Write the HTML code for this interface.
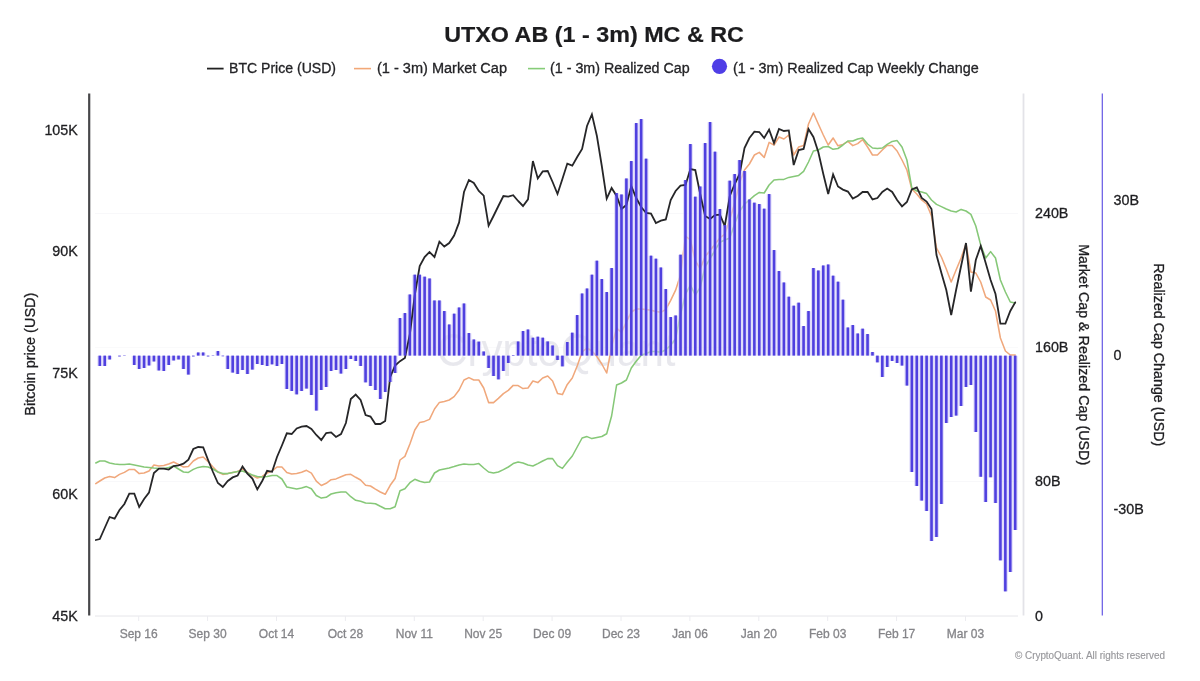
<!DOCTYPE html>
<html lang="en"><head><meta charset="utf-8"><title>UTXO AB (1 - 3m) MC &amp; RC</title>
<style>html,body{margin:0;padding:0;background:#fff;}body{width:1200px;height:681px;overflow:hidden;}svg{display:block;}text{fill:currentColor;stroke:currentColor;stroke-width:0.3px;font-family:"Liberation Sans",Arial,Helvetica,sans-serif;}</style></head><body>
<svg width="1200" height="681" viewBox="0 0 1200 681">
<rect width="1200" height="681" fill="#ffffff"/>
<text x="444.2" y="41.7" font-size="22.5" font-weight="700" style="color:#1c1c1e;stroke-width:0.2px" textLength="299.7" lengthAdjust="spacingAndGlyphs">UTXO AB (1 - 3m) MC &amp; RC</text>
<g font-size="14" style="color:#242427">
<line x1="207" y1="68.6" x2="223.6" y2="68.6" stroke="#222" stroke-width="1.8"/>
<text x="229" y="73" textLength="107" lengthAdjust="spacingAndGlyphs">BTC Price (USD)</text>
<line x1="354" y1="68.6" x2="371" y2="68.6" stroke="#f2a878" stroke-width="1.6"/>
<text x="377" y="73" textLength="130" lengthAdjust="spacingAndGlyphs">(1 - 3m) Market Cap</text>
<line x1="528" y1="68.6" x2="545" y2="68.6" stroke="#86cc78" stroke-width="1.6"/>
<text x="550" y="73" textLength="139.7" lengthAdjust="spacingAndGlyphs">(1 - 3m) Realized Cap</text>
<circle cx="719.5" cy="66.3" r="7.6" fill="#4f3ee6"/>
<text x="733" y="73" textLength="245.7" lengthAdjust="spacingAndGlyphs">(1 - 3m) Realized Cap Weekly Change</text>
</g>
<g stroke="#f8f8fa" stroke-width="1">
<line x1="95" y1="213.5" x2="1018" y2="213.5"/>
<line x1="95" y1="481.5" x2="1018" y2="481.5"/>
<line x1="95" y1="347.5" x2="1018" y2="347.5" stroke="#fafafb"/>
</g>
<line x1="95" y1="616" x2="1018" y2="616" stroke="#e6e6ea" stroke-width="1"/>
<g font-size="12" style="color:#858589" text-anchor="middle">
<line x1="138.7" y1="616" x2="138.7" y2="621" stroke="#ececf0" stroke-width="1"/>
<text x="138.7" y="638.3">Sep 16</text>
<line x1="207.6" y1="616" x2="207.6" y2="621" stroke="#ececf0" stroke-width="1"/>
<text x="207.6" y="638.3">Sep 30</text>
<line x1="276.5" y1="616" x2="276.5" y2="621" stroke="#ececf0" stroke-width="1"/>
<text x="276.5" y="638.3">Oct 14</text>
<line x1="345.4" y1="616" x2="345.4" y2="621" stroke="#ececf0" stroke-width="1"/>
<text x="345.4" y="638.3">Oct 28</text>
<line x1="414.3" y1="616" x2="414.3" y2="621" stroke="#ececf0" stroke-width="1"/>
<text x="414.3" y="638.3">Nov 11</text>
<line x1="483.2" y1="616" x2="483.2" y2="621" stroke="#ececf0" stroke-width="1"/>
<text x="483.2" y="638.3">Nov 25</text>
<line x1="552.1" y1="616" x2="552.1" y2="621" stroke="#ececf0" stroke-width="1"/>
<text x="552.1" y="638.3">Dec 09</text>
<line x1="621.0" y1="616" x2="621.0" y2="621" stroke="#ececf0" stroke-width="1"/>
<text x="621.0" y="638.3">Dec 23</text>
<line x1="689.9" y1="616" x2="689.9" y2="621" stroke="#ececf0" stroke-width="1"/>
<text x="689.9" y="638.3">Jan 06</text>
<line x1="758.8" y1="616" x2="758.8" y2="621" stroke="#ececf0" stroke-width="1"/>
<text x="758.8" y="638.3">Jan 20</text>
<line x1="827.7" y1="616" x2="827.7" y2="621" stroke="#ececf0" stroke-width="1"/>
<text x="827.7" y="638.3">Feb 03</text>
<line x1="896.6" y1="616" x2="896.6" y2="621" stroke="#ececf0" stroke-width="1"/>
<text x="896.6" y="638.3">Feb 17</text>
<line x1="965.5" y1="616" x2="965.5" y2="621" stroke="#ececf0" stroke-width="1"/>
<text x="965.5" y="638.3">Mar 03</text>
</g>
<text x="437" y="366" font-size="46" style="color:#e5e5eb;stroke-width:0" opacity="0.85" textLength="238.5" lengthAdjust="spacingAndGlyphs">CryptoQuant</text>
<path d="M95.8,483.6 L99.8,481.0 L104.7,478.0 L109.6,476.6 L114.6,477.6 L119.5,474.4 L124.4,472.4 L129.3,469.4 L134.3,469.4 L139.2,473.6 L144.1,473.0 L149.0,471.0 L153.9,465.0 L158.9,466.0 L163.8,465.6 L168.7,464.0 L173.6,462.0 L178.5,464.4 L183.5,467.0 L188.4,466.6 L193.3,461.0 L198.2,458.0 L203.2,457.0 L208.1,461.6 L213.0,467.0 L217.9,472.0 L222.8,474.4 L227.8,473.6 L232.7,472.4 L237.6,471.4 L242.5,469.0 L247.4,472.4 L252.4,475.6 L257.3,478.0 L262.2,476.4 L267.1,473.0 L272.1,471.0 L277.0,467.0 L281.9,467.0 L286.8,472.4 L291.7,474.0 L296.7,473.6 L301.6,472.3 L306.5,470.3 L311.4,473.1 L316.3,481.2 L321.3,485.5 L326.2,483.3 L331.1,479.7 L336.0,478.9 L341.0,476.7 L345.9,474.7 L350.8,474.3 L355.7,477.3 L360.6,480.0 L365.6,485.3 L370.5,486.0 L375.4,489.1 L380.3,492.0 L385.2,494.3 L390.2,485.3 L395.1,478.5 L400.0,460.0 L404.9,456.4 L409.9,444.0 L414.8,430.0 L419.7,422.4 L424.6,421.4 L429.5,419.4 L434.5,409.0 L439.4,402.4 L444.3,401.4 L449.2,400.0 L454.1,396.6 L459.1,390.0 L464.0,380.0 L468.9,377.6 L473.8,380.0 L478.8,380.0 L483.7,388.0 L488.6,402.6 L493.5,402.6 L498.4,398.4 L503.4,393.6 L508.3,390.4 L513.2,385.4 L518.1,385.6 L523.0,388.6 L528.0,388.0 L532.9,381.0 L537.8,382.6 L542.7,378.0 L547.7,376.0 L552.6,381.0 L557.5,393.4 L562.4,394.6 L567.3,384.4 L572.3,378.0 L577.2,366.0 L582.1,352.0 L587.0,348.0 L591.9,351.0 L596.9,356.6 L601.8,364.0 L606.7,373.0 L611.6,346.6 L616.6,328.1 L621.5,332.4 L626.4,321.9 L631.3,312.0 L636.2,309.0 L641.2,309.0 L646.1,309.6 L651.0,310.2 L655.9,311.5 L660.9,312.3 L665.8,309.4 L670.7,300.4 L675.6,290.2 L680.5,275.0 L685.5,236.0 L690.4,240.0 L695.3,260.7 L700.2,268.9 L705.1,256.6 L710.1,250.4 L715.0,244.2 L719.9,238.0 L724.8,234.0 L729.8,219.6 L734.7,203.0 L739.6,182.6 L744.5,170.0 L749.4,164.0 L754.4,155.0 L759.3,152.4 L764.2,157.4 L769.1,142.4 L774.0,145.0 L779.0,137.0 L783.9,139.0 L788.8,135.0 L793.7,155.0 L798.7,147.0 L803.6,145.6 L808.5,124.0 L813.4,113.0 L818.3,124.0 L823.3,135.0 L828.2,145.0 L833.1,138.0 L838.0,145.8 L842.9,144.4 L847.9,141.4 L852.8,145.6 L857.7,143.6 L862.6,139.6 L867.6,147.0 L872.5,155.0 L877.4,155.0 L882.3,150.0 L887.2,145.4 L892.2,145.6 L897.1,151.0 L902.0,160.0 L906.9,170.0 L911.8,189.0 L916.8,194.0 L921.7,200.0 L926.6,204.0 L931.5,216.0 L936.5,248.0 L941.4,257.0 L946.3,269.0 L951.2,282.0 L956.1,270.0 L961.1,258.0 L966.0,244.0 L970.9,272.0 L975.8,273.0 L980.7,282.0 L985.7,297.0 L990.6,300.0 L995.5,311.0 L1000.4,338.0 L1005.4,351.0 L1010.3,355.0 L1015.2,355.0" fill="none" stroke="#f0a87c" stroke-width="1.55" stroke-linejoin="round" stroke-linecap="round"/>
<path d="M95.8,463.0 L99.8,461.0 L104.7,461.0 L109.6,463.0 L114.6,464.0 L119.5,464.4 L124.4,464.4 L129.3,464.0 L134.3,465.0 L139.2,466.0 L144.1,467.0 L149.0,467.4 L153.9,468.0 L158.9,468.4 L163.8,468.6 L168.7,467.6 L173.6,466.0 L178.5,469.0 L183.5,472.0 L188.4,472.4 L193.3,469.4 L198.2,467.4 L203.2,466.6 L208.1,467.0 L213.0,469.0 L217.9,472.0 L222.8,473.6 L227.8,473.6 L232.7,472.6 L237.6,471.6 L242.5,471.0 L247.4,473.0 L252.4,475.0 L257.3,476.4 L262.2,477.0 L267.1,476.4 L272.1,475.4 L277.0,475.6 L281.9,479.0 L286.8,487.0 L291.7,488.0 L296.7,489.0 L301.6,488.1 L306.5,486.6 L311.4,488.8 L316.3,495.5 L321.3,498.1 L326.2,497.3 L331.1,494.0 L336.0,492.7 L341.0,492.0 L345.9,492.0 L350.8,496.7 L355.7,500.3 L360.6,501.3 L365.6,502.9 L370.5,503.3 L375.4,503.7 L380.3,506.3 L385.2,508.7 L390.2,508.7 L395.1,506.7 L400.0,490.7 L404.9,488.7 L409.9,482.7 L414.8,479.3 L419.7,481.3 L424.6,482.4 L429.5,482.0 L434.5,473.0 L439.4,470.0 L444.3,469.0 L449.2,468.0 L454.1,466.6 L459.1,465.0 L464.0,464.0 L468.9,464.6 L473.8,464.4 L478.8,463.6 L483.7,468.0 L488.6,472.0 L493.5,473.0 L498.4,472.0 L503.4,469.6 L508.3,467.0 L513.2,463.6 L518.1,462.0 L523.0,463.0 L528.0,465.0 L532.9,466.0 L537.8,463.6 L542.7,461.0 L547.7,458.6 L552.6,458.6 L557.5,465.6 L562.4,468.4 L567.3,462.0 L572.3,456.0 L577.2,447.0 L582.1,438.0 L587.0,436.6 L591.9,438.6 L596.9,437.4 L601.8,436.5 L606.7,433.8 L611.6,416.0 L616.6,385.0 L621.5,383.0 L626.4,380.0 L631.3,368.0 L636.2,361.3 L641.2,355.2 L646.1,353.4 L651.0,351.5 L655.9,351.5 L660.9,352.2 L665.8,349.7 L670.7,345.4 L675.6,338.6 L680.5,314.5 L685.5,294.2 L690.4,285.0 L695.3,295.1 L700.2,287.4 L705.1,266.8 L710.1,258.6 L715.0,250.4 L719.9,242.2 L724.8,240.0 L729.8,238.0 L734.7,223.7 L739.6,211.4 L744.5,204.2 L749.4,200.0 L754.4,195.6 L759.3,192.4 L764.2,193.0 L769.1,185.0 L774.0,180.0 L779.0,179.4 L783.9,179.4 L788.8,177.4 L793.7,176.4 L798.7,175.4 L803.6,171.4 L808.5,162.0 L813.4,151.0 L818.3,150.0 L823.3,147.0 L828.2,146.5 L833.1,149.3 L838.0,148.5 L842.9,145.0 L847.9,141.0 L852.8,141.0 L857.7,139.0 L862.6,138.0 L867.6,144.0 L872.5,148.0 L877.4,148.6 L882.3,148.0 L887.2,144.4 L892.2,141.4 L897.1,140.6 L902.0,147.0 L906.9,160.0 L911.8,188.0 L916.8,191.0 L921.7,192.0 L926.6,193.6 L931.5,200.0 L936.5,204.4 L941.4,206.6 L946.3,209.0 L951.2,211.0 L956.1,212.0 L961.1,209.4 L966.0,211.0 L970.9,214.4 L975.8,226.0 L980.7,245.0 L985.7,258.0 L990.6,251.6 L995.5,258.0 L1000.4,280.0 L1005.4,292.0 L1010.3,302.0 L1015.2,303.0" fill="none" stroke="#86c878" stroke-width="1.55" stroke-linejoin="round" stroke-linecap="round"/>
<g fill="#cfc9f8" opacity="0.66">
<rect x="97.34" y="355.9" width="4.921" height="10.1"/>
<rect x="102.26" y="355.9" width="4.921" height="10.1"/>
<rect x="107.18" y="355.9" width="4.921" height="3.6"/>
<rect x="131.79" y="355.9" width="4.921" height="9.1"/>
<rect x="136.71" y="355.9" width="4.921" height="13.1"/>
<rect x="141.63" y="355.9" width="4.921" height="12.1"/>
<rect x="146.55" y="355.9" width="4.921" height="9.6"/>
<rect x="151.48" y="355.9" width="4.921" height="5.6"/>
<rect x="156.40" y="355.9" width="4.921" height="14.6"/>
<rect x="161.32" y="355.9" width="4.921" height="15.1"/>
<rect x="166.24" y="355.9" width="4.921" height="9.1"/>
<rect x="171.16" y="355.9" width="4.921" height="4.6"/>
<rect x="176.08" y="355.9" width="4.921" height="3.6"/>
<rect x="181.00" y="355.9" width="4.921" height="13.1"/>
<rect x="185.93" y="355.9" width="4.921" height="18.7"/>
<rect x="195.77" y="352.7" width="4.921" height="2.9"/>
<rect x="200.69" y="352.7" width="4.921" height="2.9"/>
<rect x="215.46" y="351.3" width="4.921" height="4.3"/>
<rect x="225.30" y="355.9" width="4.921" height="13.1"/>
<rect x="230.22" y="355.9" width="4.921" height="16.7"/>
<rect x="235.14" y="355.9" width="4.921" height="18.1"/>
<rect x="240.06" y="355.9" width="4.921" height="14.1"/>
<rect x="244.98" y="355.9" width="4.921" height="18.1"/>
<rect x="249.91" y="355.9" width="4.921" height="13.7"/>
<rect x="254.83" y="355.9" width="4.921" height="8.1"/>
<rect x="259.75" y="355.9" width="4.921" height="9.1"/>
<rect x="264.67" y="355.9" width="4.921" height="10.1"/>
<rect x="269.59" y="355.9" width="4.921" height="8.5"/>
<rect x="274.51" y="355.9" width="4.921" height="10.1"/>
<rect x="279.43" y="355.9" width="4.921" height="8.1"/>
<rect x="284.36" y="355.9" width="4.921" height="33.1"/>
<rect x="289.28" y="355.9" width="4.921" height="35.1"/>
<rect x="294.20" y="355.9" width="4.921" height="38.5"/>
<rect x="299.12" y="355.9" width="4.921" height="35.1"/>
<rect x="304.04" y="355.9" width="4.921" height="32.7"/>
<rect x="308.96" y="355.9" width="4.921" height="39.1"/>
<rect x="313.89" y="355.9" width="4.921" height="54.7"/>
<rect x="318.81" y="355.9" width="4.921" height="34.1"/>
<rect x="323.73" y="355.9" width="4.921" height="31.1"/>
<rect x="328.65" y="355.9" width="4.921" height="15.1"/>
<rect x="333.57" y="355.9" width="4.921" height="14.1"/>
<rect x="338.49" y="355.9" width="4.921" height="17.7"/>
<rect x="343.41" y="355.9" width="4.921" height="13.1"/>
<rect x="348.34" y="355.9" width="4.921" height="3.1"/>
<rect x="353.26" y="355.9" width="4.921" height="5.1"/>
<rect x="358.18" y="355.9" width="4.921" height="10.1"/>
<rect x="363.10" y="355.9" width="4.921" height="26.5"/>
<rect x="368.02" y="355.9" width="4.921" height="30.1"/>
<rect x="372.94" y="355.9" width="4.921" height="34.1"/>
<rect x="377.86" y="355.9" width="4.921" height="43.1"/>
<rect x="382.79" y="355.9" width="4.921" height="36.1"/>
<rect x="387.71" y="355.9" width="4.921" height="26.1"/>
<rect x="392.63" y="355.9" width="4.921" height="17.1"/>
<rect x="397.55" y="318.3" width="4.921" height="37.3"/>
<rect x="402.47" y="313.3" width="4.921" height="42.3"/>
<rect x="407.39" y="294.7" width="4.921" height="60.9"/>
<rect x="412.32" y="274.9" width="4.921" height="80.7"/>
<rect x="417.24" y="274.9" width="4.921" height="80.7"/>
<rect x="422.16" y="276.9" width="4.921" height="78.7"/>
<rect x="427.08" y="278.7" width="4.921" height="76.9"/>
<rect x="432.00" y="300.7" width="4.921" height="54.9"/>
<rect x="436.92" y="300.7" width="4.921" height="54.9"/>
<rect x="441.84" y="311.3" width="4.921" height="44.3"/>
<rect x="446.77" y="324.7" width="4.921" height="30.9"/>
<rect x="451.69" y="313.9" width="4.921" height="41.7"/>
<rect x="456.61" y="307.7" width="4.921" height="47.9"/>
<rect x="461.53" y="303.7" width="4.921" height="51.9"/>
<rect x="466.45" y="333.3" width="4.921" height="22.3"/>
<rect x="471.37" y="339.7" width="4.921" height="15.9"/>
<rect x="476.29" y="341.9" width="4.921" height="13.7"/>
<rect x="481.22" y="351.7" width="4.921" height="3.9"/>
<rect x="486.14" y="355.9" width="4.921" height="12.1"/>
<rect x="491.06" y="355.9" width="4.921" height="20.1"/>
<rect x="495.98" y="355.9" width="4.921" height="23.5"/>
<rect x="500.90" y="355.9" width="4.921" height="15.1"/>
<rect x="505.82" y="355.9" width="4.921" height="7.1"/>
<rect x="515.67" y="341.7" width="4.921" height="13.9"/>
<rect x="520.59" y="331.3" width="4.921" height="24.3"/>
<rect x="525.51" y="329.7" width="4.921" height="25.9"/>
<rect x="530.43" y="337.9" width="4.921" height="17.7"/>
<rect x="535.35" y="336.9" width="4.921" height="18.7"/>
<rect x="540.27" y="337.9" width="4.921" height="17.7"/>
<rect x="545.20" y="341.7" width="4.921" height="13.9"/>
<rect x="550.12" y="345.7" width="4.921" height="9.9"/>
<rect x="555.04" y="355.9" width="4.921" height="4.1"/>
<rect x="559.96" y="355.9" width="4.921" height="10.5"/>
<rect x="564.88" y="342.3" width="4.921" height="13.3"/>
<rect x="569.80" y="332.9" width="4.921" height="22.7"/>
<rect x="574.72" y="315.3" width="4.921" height="40.3"/>
<rect x="579.65" y="293.7" width="4.921" height="61.9"/>
<rect x="584.57" y="288.7" width="4.921" height="66.9"/>
<rect x="589.49" y="274.9" width="4.921" height="80.7"/>
<rect x="594.41" y="260.9" width="4.921" height="94.7"/>
<rect x="599.33" y="279.3" width="4.921" height="76.3"/>
<rect x="604.25" y="292.3" width="4.921" height="63.3"/>
<rect x="609.18" y="268.3" width="4.921" height="87.3"/>
<rect x="614.10" y="193.3" width="4.921" height="162.3"/>
<rect x="619.02" y="194.7" width="4.921" height="160.9"/>
<rect x="623.94" y="178.7" width="4.921" height="176.9"/>
<rect x="628.86" y="161.3" width="4.921" height="194.3"/>
<rect x="633.78" y="123.3" width="4.921" height="232.3"/>
<rect x="638.70" y="119.3" width="4.921" height="236.3"/>
<rect x="643.63" y="158.9" width="4.921" height="196.7"/>
<rect x="648.55" y="255.9" width="4.921" height="99.7"/>
<rect x="653.47" y="258.9" width="4.921" height="96.7"/>
<rect x="658.39" y="267.7" width="4.921" height="87.9"/>
<rect x="663.31" y="289.3" width="4.921" height="66.3"/>
<rect x="668.23" y="317.3" width="4.921" height="38.3"/>
<rect x="673.15" y="315.7" width="4.921" height="39.9"/>
<rect x="678.08" y="254.9" width="4.921" height="100.7"/>
<rect x="683.00" y="180.3" width="4.921" height="175.3"/>
<rect x="687.92" y="144.3" width="4.921" height="211.3"/>
<rect x="692.84" y="196.9" width="4.921" height="158.7"/>
<rect x="697.76" y="186.7" width="4.921" height="168.9"/>
<rect x="702.68" y="143.3" width="4.921" height="212.3"/>
<rect x="707.61" y="122.3" width="4.921" height="233.3"/>
<rect x="712.53" y="151.9" width="4.921" height="203.7"/>
<rect x="717.45" y="209.3" width="4.921" height="146.3"/>
<rect x="722.37" y="225.3" width="4.921" height="130.3"/>
<rect x="727.29" y="180.9" width="4.921" height="174.7"/>
<rect x="732.21" y="174.3" width="4.921" height="181.3"/>
<rect x="737.13" y="160.3" width="4.921" height="195.3"/>
<rect x="742.06" y="171.3" width="4.921" height="184.3"/>
<rect x="746.98" y="199.7" width="4.921" height="155.9"/>
<rect x="751.90" y="202.9" width="4.921" height="152.7"/>
<rect x="756.82" y="204.3" width="4.921" height="151.3"/>
<rect x="761.74" y="208.9" width="4.921" height="146.7"/>
<rect x="766.66" y="194.3" width="4.921" height="161.3"/>
<rect x="771.58" y="250.3" width="4.921" height="105.3"/>
<rect x="776.51" y="271.3" width="4.921" height="84.3"/>
<rect x="781.43" y="282.7" width="4.921" height="72.9"/>
<rect x="786.35" y="296.9" width="4.921" height="58.7"/>
<rect x="791.27" y="305.9" width="4.921" height="49.7"/>
<rect x="796.19" y="302.9" width="4.921" height="52.7"/>
<rect x="801.11" y="326.3" width="4.921" height="29.3"/>
<rect x="806.04" y="311.3" width="4.921" height="44.3"/>
<rect x="810.96" y="268.3" width="4.921" height="87.3"/>
<rect x="815.88" y="270.7" width="4.921" height="84.9"/>
<rect x="820.80" y="265.7" width="4.921" height="89.9"/>
<rect x="825.72" y="264.7" width="4.921" height="90.9"/>
<rect x="830.64" y="275.9" width="4.921" height="79.7"/>
<rect x="835.56" y="281.9" width="4.921" height="73.7"/>
<rect x="840.49" y="299.9" width="4.921" height="55.7"/>
<rect x="845.41" y="327.7" width="4.921" height="27.9"/>
<rect x="850.33" y="325.3" width="4.921" height="30.3"/>
<rect x="855.25" y="333.7" width="4.921" height="21.9"/>
<rect x="860.17" y="328.9" width="4.921" height="26.7"/>
<rect x="865.09" y="334.3" width="4.921" height="21.3"/>
<rect x="870.01" y="352.3" width="4.921" height="3.3"/>
<rect x="874.94" y="355.9" width="4.921" height="6.5"/>
<rect x="879.86" y="355.9" width="4.921" height="21.1"/>
<rect x="884.78" y="355.9" width="4.921" height="11.1"/>
<rect x="889.70" y="355.9" width="4.921" height="5.1"/>
<rect x="894.62" y="355.9" width="4.921" height="7.1"/>
<rect x="899.54" y="355.9" width="4.921" height="9.7"/>
<rect x="904.47" y="355.9" width="4.921" height="29.7"/>
<rect x="909.39" y="355.9" width="4.921" height="116.1"/>
<rect x="914.31" y="355.9" width="4.921" height="130.1"/>
<rect x="919.23" y="355.9" width="4.921" height="144.7"/>
<rect x="924.15" y="355.9" width="4.921" height="155.1"/>
<rect x="929.07" y="355.9" width="4.921" height="185.1"/>
<rect x="933.99" y="355.9" width="4.921" height="181.1"/>
<rect x="938.92" y="355.9" width="4.921" height="148.1"/>
<rect x="943.84" y="355.9" width="4.921" height="67.1"/>
<rect x="948.76" y="355.9" width="4.921" height="61.1"/>
<rect x="953.68" y="355.9" width="4.921" height="59.7"/>
<rect x="958.60" y="355.9" width="4.921" height="50.1"/>
<rect x="963.52" y="355.9" width="4.921" height="31.1"/>
<rect x="968.44" y="355.9" width="4.921" height="29.1"/>
<rect x="973.37" y="355.9" width="4.921" height="76.1"/>
<rect x="978.29" y="355.9" width="4.921" height="120.9"/>
<rect x="983.21" y="355.9" width="4.921" height="146.1"/>
<rect x="988.13" y="355.9" width="4.921" height="121.4"/>
<rect x="993.05" y="355.9" width="4.921" height="147.1"/>
<rect x="997.97" y="355.9" width="4.921" height="204.5"/>
<rect x="1002.90" y="355.9" width="4.921" height="235.5"/>
<rect x="1007.82" y="355.9" width="4.921" height="216.1"/>
<rect x="1012.74" y="355.9" width="4.921" height="174.1"/>
</g>
<path d="M95.8,540.0 L99.8,539.0 L104.7,528.0 L109.6,517.0 L114.6,518.6 L119.5,510.0 L124.4,504.0 L129.3,493.6 L134.3,493.6 L139.2,507.0 L144.1,499.0 L149.0,492.6 L153.9,473.0 L158.9,468.6 L163.8,468.6 L168.7,469.6 L173.6,466.0 L178.5,465.4 L183.5,463.6 L188.4,459.6 L193.3,449.0 L198.2,447.0 L203.2,447.4 L208.1,460.0 L213.0,472.0 L217.9,483.0 L222.8,487.0 L227.8,481.0 L232.7,477.4 L237.6,475.6 L242.5,466.4 L247.4,473.6 L252.4,478.6 L257.3,489.4 L262.2,481.0 L267.1,470.8 L272.1,471.8 L277.0,457.0 L281.9,445.5 L286.8,433.3 L291.7,434.0 L296.7,428.4 L301.6,426.6 L306.5,426.0 L311.4,429.0 L316.3,435.0 L321.3,440.0 L326.2,433.0 L331.1,432.4 L336.0,437.0 L341.0,434.0 L345.9,423.0 L350.8,399.0 L355.7,394.6 L360.6,400.0 L365.6,415.0 L370.5,416.6 L375.4,424.0 L380.3,424.0 L385.2,421.0 L390.2,377.0 L395.1,365.6 L400.0,361.2 L404.9,358.0 L409.9,334.0 L414.8,295.0 L419.7,266.0 L424.6,257.0 L429.5,252.0 L434.5,257.0 L439.4,241.6 L444.3,246.6 L449.2,243.0 L454.1,235.5 L459.1,222.4 L464.0,192.0 L468.9,180.0 L473.8,183.0 L478.8,191.0 L483.7,195.6 L488.6,225.6 L493.5,216.0 L498.4,206.0 L503.4,196.0 L508.3,196.6 L513.2,195.2 L518.1,201.0 L523.0,206.0 L528.0,199.4 L532.9,161.0 L537.8,178.4 L542.7,171.4 L547.7,171.0 L552.6,182.0 L557.5,194.0 L562.4,179.0 L567.3,163.6 L572.3,165.6 L577.2,157.0 L582.1,149.0 L587.0,126.0 L591.9,114.4 L596.9,136.0 L601.8,166.0 L606.7,198.6 L611.6,188.0 L616.6,196.0 L621.5,209.0 L626.4,205.0 L631.3,186.0 L636.2,198.0 L641.2,207.0 L646.1,213.0 L651.0,213.6 L655.9,223.0 L660.9,220.6 L665.8,219.4 L670.7,200.0 L675.6,191.0 L680.5,185.6 L685.5,185.0 L690.4,169.0 L695.3,170.0 L700.2,194.0 L705.1,216.0 L710.1,219.0 L715.0,215.0 L719.9,214.6 L724.8,226.0 L729.8,196.0 L734.7,184.0 L739.6,174.0 L744.5,148.0 L749.4,138.0 L754.4,131.6 L759.3,132.0 L764.2,138.0 L769.1,129.6 L774.0,143.0 L779.0,129.0 L783.9,131.0 L788.8,130.4 L793.7,165.0 L798.7,150.0 L803.6,149.0 L808.5,129.0 L813.4,137.0 L818.3,152.0 L823.3,174.0 L828.2,194.0 L833.1,174.4 L838.0,186.5 L842.9,189.6 L847.9,191.6 L852.8,198.6 L857.7,196.0 L862.6,192.0 L867.6,192.0 L872.5,199.4 L877.4,198.0 L882.3,192.0 L887.2,188.6 L892.2,192.0 L897.1,200.0 L902.0,206.4 L906.9,202.0 L911.8,189.4 L916.8,187.4 L921.7,198.0 L926.6,201.6 L931.5,209.0 L936.5,255.0 L941.4,273.0 L946.3,290.0 L951.2,315.0 L956.1,290.0 L961.1,266.0 L966.0,243.0 L970.9,291.6 L975.8,260.0 L980.7,246.0 L985.7,263.0 L990.6,280.0 L995.5,294.0 L1000.4,323.6 L1005.4,323.6 L1010.3,311.0 L1015.2,302.4" fill="none" stroke="#262628" stroke-width="1.8" stroke-linejoin="miter" stroke-linecap="round"/>
<g fill="#4a3ade" opacity="0.96">
<rect x="98.50" y="355.6" width="2.6" height="10.4"/>
<rect x="103.42" y="355.6" width="2.6" height="10.4"/>
<rect x="108.34" y="355.6" width="2.6" height="3.9"/>
<rect x="118.19" y="355.6" width="2.6" height="0.9"/>
<rect x="123.11" y="355.6" width="2.6" height="0.4"/>
<rect x="132.95" y="355.6" width="2.6" height="9.4"/>
<rect x="137.87" y="355.6" width="2.6" height="13.4"/>
<rect x="142.79" y="355.6" width="2.6" height="12.4"/>
<rect x="147.71" y="355.6" width="2.6" height="9.9"/>
<rect x="152.64" y="355.6" width="2.6" height="5.9"/>
<rect x="157.56" y="355.6" width="2.6" height="14.9"/>
<rect x="162.48" y="355.6" width="2.6" height="15.4"/>
<rect x="167.40" y="355.6" width="2.6" height="9.4"/>
<rect x="172.32" y="355.6" width="2.6" height="4.9"/>
<rect x="177.24" y="355.6" width="2.6" height="3.9"/>
<rect x="182.17" y="355.6" width="2.6" height="13.4"/>
<rect x="187.09" y="355.6" width="2.6" height="19.0"/>
<rect x="192.01" y="355.6" width="2.6" height="0.9"/>
<rect x="196.93" y="352.4" width="2.6" height="3.2"/>
<rect x="201.85" y="352.4" width="2.6" height="3.2"/>
<rect x="206.77" y="355.6" width="2.6" height="0.9"/>
<rect x="211.69" y="355.6" width="2.6" height="0.4"/>
<rect x="216.62" y="351.0" width="2.6" height="4.6"/>
<rect x="221.54" y="355.6" width="2.6" height="0.7"/>
<rect x="226.46" y="355.6" width="2.6" height="13.4"/>
<rect x="231.38" y="355.6" width="2.6" height="17.0"/>
<rect x="236.30" y="355.6" width="2.6" height="18.4"/>
<rect x="241.22" y="355.6" width="2.6" height="14.4"/>
<rect x="246.14" y="355.6" width="2.6" height="18.4"/>
<rect x="251.07" y="355.6" width="2.6" height="14.0"/>
<rect x="255.99" y="355.6" width="2.6" height="8.4"/>
<rect x="260.91" y="355.6" width="2.6" height="9.4"/>
<rect x="265.83" y="355.6" width="2.6" height="10.4"/>
<rect x="270.75" y="355.6" width="2.6" height="8.8"/>
<rect x="275.67" y="355.6" width="2.6" height="10.4"/>
<rect x="280.60" y="355.6" width="2.6" height="8.4"/>
<rect x="285.52" y="355.6" width="2.6" height="33.4"/>
<rect x="290.44" y="355.6" width="2.6" height="35.4"/>
<rect x="295.36" y="355.6" width="2.6" height="38.8"/>
<rect x="300.28" y="355.6" width="2.6" height="35.4"/>
<rect x="305.20" y="355.6" width="2.6" height="33.0"/>
<rect x="310.12" y="355.6" width="2.6" height="39.4"/>
<rect x="315.05" y="355.6" width="2.6" height="55.0"/>
<rect x="319.97" y="355.6" width="2.6" height="34.4"/>
<rect x="324.89" y="355.6" width="2.6" height="31.4"/>
<rect x="329.81" y="355.6" width="2.6" height="15.4"/>
<rect x="334.73" y="355.6" width="2.6" height="14.4"/>
<rect x="339.65" y="355.6" width="2.6" height="18.0"/>
<rect x="344.57" y="355.6" width="2.6" height="13.4"/>
<rect x="349.50" y="355.6" width="2.6" height="3.4"/>
<rect x="354.42" y="355.6" width="2.6" height="5.4"/>
<rect x="359.34" y="355.6" width="2.6" height="10.4"/>
<rect x="364.26" y="355.6" width="2.6" height="26.8"/>
<rect x="369.18" y="355.6" width="2.6" height="30.4"/>
<rect x="374.10" y="355.6" width="2.6" height="34.4"/>
<rect x="379.03" y="355.6" width="2.6" height="43.4"/>
<rect x="383.95" y="355.6" width="2.6" height="36.4"/>
<rect x="388.87" y="355.6" width="2.6" height="26.4"/>
<rect x="393.79" y="355.6" width="2.6" height="17.4"/>
<rect x="398.71" y="318.0" width="2.6" height="37.6"/>
<rect x="403.63" y="313.0" width="2.6" height="42.6"/>
<rect x="408.55" y="294.4" width="2.6" height="61.2"/>
<rect x="413.48" y="274.6" width="2.6" height="81.0"/>
<rect x="418.40" y="274.6" width="2.6" height="81.0"/>
<rect x="423.32" y="276.6" width="2.6" height="79.0"/>
<rect x="428.24" y="278.4" width="2.6" height="77.2"/>
<rect x="433.16" y="300.4" width="2.6" height="55.2"/>
<rect x="438.08" y="300.4" width="2.6" height="55.2"/>
<rect x="443.00" y="311.0" width="2.6" height="44.6"/>
<rect x="447.93" y="324.4" width="2.6" height="31.2"/>
<rect x="452.85" y="313.6" width="2.6" height="42.0"/>
<rect x="457.77" y="307.4" width="2.6" height="48.2"/>
<rect x="462.69" y="303.4" width="2.6" height="52.2"/>
<rect x="467.61" y="333.0" width="2.6" height="22.6"/>
<rect x="472.53" y="339.4" width="2.6" height="16.2"/>
<rect x="477.46" y="341.6" width="2.6" height="14.0"/>
<rect x="482.38" y="351.4" width="2.6" height="4.2"/>
<rect x="487.30" y="355.6" width="2.6" height="12.4"/>
<rect x="492.22" y="355.6" width="2.6" height="20.4"/>
<rect x="497.14" y="355.6" width="2.6" height="23.8"/>
<rect x="502.06" y="355.6" width="2.6" height="15.4"/>
<rect x="506.98" y="355.6" width="2.6" height="7.4"/>
<rect x="511.91" y="355.0" width="2.6" height="0.6"/>
<rect x="516.83" y="341.4" width="2.6" height="14.2"/>
<rect x="521.75" y="331.0" width="2.6" height="24.6"/>
<rect x="526.67" y="329.4" width="2.6" height="26.2"/>
<rect x="531.59" y="337.6" width="2.6" height="18.0"/>
<rect x="536.51" y="336.6" width="2.6" height="19.0"/>
<rect x="541.44" y="337.6" width="2.6" height="18.0"/>
<rect x="546.36" y="341.4" width="2.6" height="14.2"/>
<rect x="551.28" y="345.4" width="2.6" height="10.2"/>
<rect x="556.20" y="355.6" width="2.6" height="4.4"/>
<rect x="561.12" y="355.6" width="2.6" height="10.8"/>
<rect x="566.04" y="342.0" width="2.6" height="13.6"/>
<rect x="570.96" y="332.6" width="2.6" height="23.0"/>
<rect x="575.89" y="315.0" width="2.6" height="40.6"/>
<rect x="580.81" y="293.4" width="2.6" height="62.2"/>
<rect x="585.73" y="288.4" width="2.6" height="67.2"/>
<rect x="590.65" y="274.6" width="2.6" height="81.0"/>
<rect x="595.57" y="260.6" width="2.6" height="95.0"/>
<rect x="600.49" y="279.0" width="2.6" height="76.6"/>
<rect x="605.41" y="292.0" width="2.6" height="63.6"/>
<rect x="610.34" y="268.0" width="2.6" height="87.6"/>
<rect x="615.26" y="193.0" width="2.6" height="162.6"/>
<rect x="620.18" y="194.4" width="2.6" height="161.2"/>
<rect x="625.10" y="178.4" width="2.6" height="177.2"/>
<rect x="630.02" y="161.0" width="2.6" height="194.6"/>
<rect x="634.94" y="123.0" width="2.6" height="232.6"/>
<rect x="639.87" y="119.0" width="2.6" height="236.6"/>
<rect x="644.79" y="158.6" width="2.6" height="197.0"/>
<rect x="649.71" y="255.6" width="2.6" height="100.0"/>
<rect x="654.63" y="258.6" width="2.6" height="97.0"/>
<rect x="659.55" y="267.4" width="2.6" height="88.2"/>
<rect x="664.47" y="289.0" width="2.6" height="66.6"/>
<rect x="669.39" y="317.0" width="2.6" height="38.6"/>
<rect x="674.32" y="315.4" width="2.6" height="40.2"/>
<rect x="679.24" y="254.6" width="2.6" height="101.0"/>
<rect x="684.16" y="180.0" width="2.6" height="175.6"/>
<rect x="689.08" y="144.0" width="2.6" height="211.6"/>
<rect x="694.00" y="196.6" width="2.6" height="159.0"/>
<rect x="698.92" y="186.4" width="2.6" height="169.2"/>
<rect x="703.84" y="143.0" width="2.6" height="212.6"/>
<rect x="708.77" y="122.0" width="2.6" height="233.6"/>
<rect x="713.69" y="151.6" width="2.6" height="204.0"/>
<rect x="718.61" y="209.0" width="2.6" height="146.6"/>
<rect x="723.53" y="225.0" width="2.6" height="130.6"/>
<rect x="728.45" y="180.6" width="2.6" height="175.0"/>
<rect x="733.37" y="174.0" width="2.6" height="181.6"/>
<rect x="738.29" y="160.0" width="2.6" height="195.6"/>
<rect x="743.22" y="171.0" width="2.6" height="184.6"/>
<rect x="748.14" y="199.4" width="2.6" height="156.2"/>
<rect x="753.06" y="202.6" width="2.6" height="153.0"/>
<rect x="757.98" y="204.0" width="2.6" height="151.6"/>
<rect x="762.90" y="208.6" width="2.6" height="147.0"/>
<rect x="767.82" y="194.0" width="2.6" height="161.6"/>
<rect x="772.75" y="250.0" width="2.6" height="105.6"/>
<rect x="777.67" y="271.0" width="2.6" height="84.6"/>
<rect x="782.59" y="282.4" width="2.6" height="73.2"/>
<rect x="787.51" y="296.6" width="2.6" height="59.0"/>
<rect x="792.43" y="305.6" width="2.6" height="50.0"/>
<rect x="797.35" y="302.6" width="2.6" height="53.0"/>
<rect x="802.27" y="326.0" width="2.6" height="29.6"/>
<rect x="807.20" y="311.0" width="2.6" height="44.6"/>
<rect x="812.12" y="268.0" width="2.6" height="87.6"/>
<rect x="817.04" y="270.4" width="2.6" height="85.2"/>
<rect x="821.96" y="265.4" width="2.6" height="90.2"/>
<rect x="826.88" y="264.4" width="2.6" height="91.2"/>
<rect x="831.80" y="275.6" width="2.6" height="80.0"/>
<rect x="836.73" y="281.6" width="2.6" height="74.0"/>
<rect x="841.65" y="299.6" width="2.6" height="56.0"/>
<rect x="846.57" y="327.4" width="2.6" height="28.2"/>
<rect x="851.49" y="325.0" width="2.6" height="30.6"/>
<rect x="856.41" y="333.4" width="2.6" height="22.2"/>
<rect x="861.33" y="328.6" width="2.6" height="27.0"/>
<rect x="866.25" y="334.0" width="2.6" height="21.6"/>
<rect x="871.18" y="352.0" width="2.6" height="3.6"/>
<rect x="876.10" y="355.6" width="2.6" height="6.8"/>
<rect x="881.02" y="355.6" width="2.6" height="21.4"/>
<rect x="885.94" y="355.6" width="2.6" height="11.4"/>
<rect x="890.86" y="355.6" width="2.6" height="5.4"/>
<rect x="895.78" y="355.6" width="2.6" height="7.4"/>
<rect x="900.70" y="355.6" width="2.6" height="10.0"/>
<rect x="905.63" y="355.6" width="2.6" height="30.0"/>
<rect x="910.55" y="355.6" width="2.6" height="116.4"/>
<rect x="915.47" y="355.6" width="2.6" height="130.4"/>
<rect x="920.39" y="355.6" width="2.6" height="145.0"/>
<rect x="925.31" y="355.6" width="2.6" height="155.4"/>
<rect x="930.23" y="355.6" width="2.6" height="185.4"/>
<rect x="935.15" y="355.6" width="2.6" height="181.4"/>
<rect x="940.08" y="355.6" width="2.6" height="148.4"/>
<rect x="945.00" y="355.6" width="2.6" height="67.4"/>
<rect x="949.92" y="355.6" width="2.6" height="61.4"/>
<rect x="954.84" y="355.6" width="2.6" height="60.0"/>
<rect x="959.76" y="355.6" width="2.6" height="50.4"/>
<rect x="964.68" y="355.6" width="2.6" height="31.4"/>
<rect x="969.61" y="355.6" width="2.6" height="29.4"/>
<rect x="974.53" y="355.6" width="2.6" height="76.4"/>
<rect x="979.45" y="355.6" width="2.6" height="121.2"/>
<rect x="984.37" y="355.6" width="2.6" height="146.4"/>
<rect x="989.29" y="355.6" width="2.6" height="121.7"/>
<rect x="994.21" y="355.6" width="2.6" height="147.4"/>
<rect x="999.13" y="355.6" width="2.6" height="204.8"/>
<rect x="1004.06" y="355.6" width="2.6" height="235.8"/>
<rect x="1008.98" y="355.6" width="2.6" height="216.4"/>
<rect x="1013.90" y="355.6" width="2.6" height="174.4"/>
</g>
<rect x="88.1" y="93.5" width="2.2" height="522" fill="#47474a"/>
<rect x="1022.6" y="93.5" width="1.8" height="522" fill="#e3e3e8"/>
<rect x="1101.7" y="93.5" width="1.2" height="522" fill="#6558e4"/>
<g font-size="14.3" style="color:#1e1e21" text-anchor="end">
<text x="77.8" y="134.5">105K</text>
<text x="77.8" y="256">90K</text>
<text x="77.8" y="377.5">75K</text>
<text x="77.8" y="499.3">60K</text>
<text x="77.8" y="621">45K</text>
</g>
<g font-size="14.3" style="color:#1e1e21">
<text x="1035" y="218.3">240B</text>
<text x="1035" y="351.9">160B</text>
<text x="1035" y="486.2">80B</text>
<text x="1035" y="621">0</text>
<text x="1113.5" y="205.3">30B</text>
<text x="1113.5" y="359.8">0</text>
<text x="1113.5" y="514.2">-30B</text>
</g>
<g font-size="14" style="color:#1e1e21">
<text transform="translate(34.5,415.7) rotate(-90)" textLength="123" lengthAdjust="spacingAndGlyphs">Bitcoin price (USD)</text>
<text transform="translate(1078.5,244.2) rotate(90)" textLength="221" lengthAdjust="spacingAndGlyphs">Market Cap &amp; Realized Cap (USD)</text>
<text transform="translate(1154,263.3) rotate(90)" textLength="183" lengthAdjust="spacingAndGlyphs">Realized Cap Change (USD)</text>
</g>
<text x="1015" y="658.6" font-size="10" style="color:#98989c;stroke-width:0.15px" textLength="150" lengthAdjust="spacingAndGlyphs">© CryptoQuant. All rights reserved</text>
</svg></body></html>
